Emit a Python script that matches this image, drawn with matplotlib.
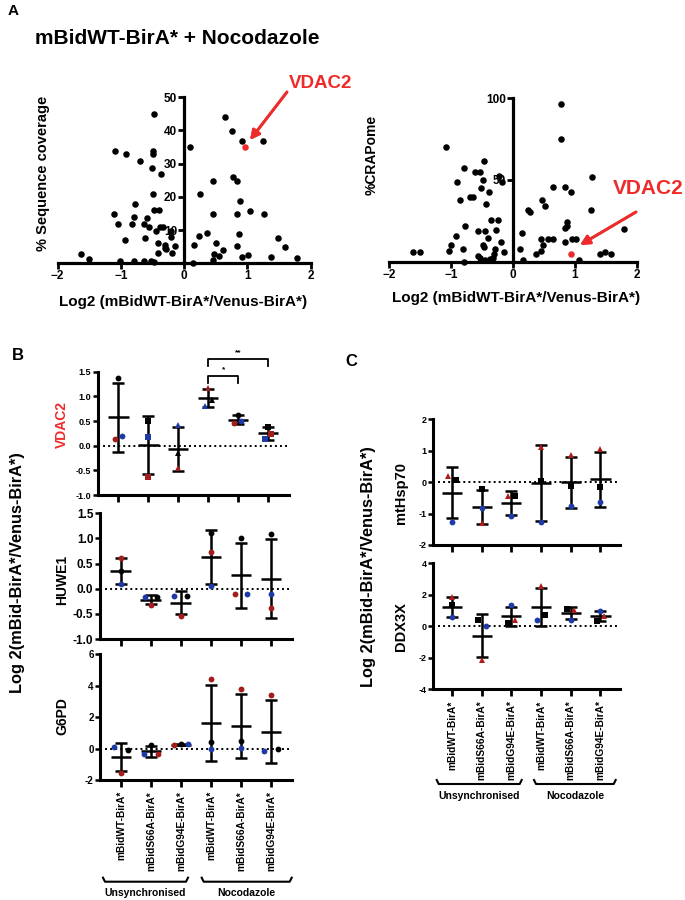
import numpy as np
import matplotlib.pyplot as plt
from matplotlib.lines import Line2D

plt.rcParams['font.family'] = ['Liberation Sans', 'DejaVu Sans']
plt.rcParams['font.weight'] = 'bold'

W, H = 685, 900
RED = '#ee2b2b'
DRED = '#a41d1d'
BLUE = '#1f3aa6'

# ---- panel A: % sequence coverage vs log2 ratio
cov_x = [-1.63, -1.51, -1.10, -0.92, -1.11, -1.04, -1.01, -0.93, -0.79, -0.78,
         -0.80, -0.83, -0.70, -0.64, -0.62, -0.58, -0.64, -0.55, -0.52, -0.51,
         -0.50, -0.49, -0.49, -0.48, -0.48, -0.47, -0.44, -0.40, -0.41, -0.42,
         -0.36, -0.38, -0.34, -0.31, -0.31, -0.29, -0.21, -0.21, -0.19, -0.15,
         0.10, 0.64, 0.76, 0.92, 1.25, 0.46, 0.77, 0.83, 0.25, 0.88,
         0.46, 0.83, 1.04, 1.27, 0.23, 0.37, 0.15, 0.50, 0.62, 0.47,
         0.56, 0.45, 0.14, 0.87, 0.84, 0.92, 1.01, 1.38, 1.49, 1.59, 1.79]
cov_y = [2.7, 1.2, 33.9, 32.9, 14.7, 11.8, 0.6, 7.0, 0.8, 17.8,
         13.8, 11.8, 30.8, 11.8, 7.6, 13.7, 0.8, 10.8, 0.8, 28.8,
         20.8, 33.8, 32.8, 44.9, 0.3, 16.0, 9.8, 16.0, 6.2, 3.0,
         26.8, 10.8, 11.0, 5.4, 4.5, 4.2, 8.0, 9.8, 3.0, 5.3,
         34.9, 44.0, 39.9, 36.9, 36.9, 24.8, 25.8, 24.8, 20.8, 18.8,
         14.7, 14.7, 15.7, 14.7, 8.3, 9.0, 5.5, 6.0, 4.0, 2.7,
         2.3, 1.0, 0.2, 8.7, 5.2, 2.0, 2.4, 1.8, 7.7, 4.8, 1.7]
cov_vdac2 = (0.96, 34.9)

# ---- panel A: % CRAPome vs log2 ratio
crap_x = [-1.62, -1.50, -1.09, -1.04, -1.01, -0.92, -0.91, -0.85, -0.79, -0.77,
          -0.81, -0.79, -0.70, -0.64, -0.61, -0.53, -0.49, -0.47, -0.51, -0.39,
          -0.44, -0.57, -0.45, -0.48, -0.47, -0.41, -0.56, -0.53, -0.45, -0.35,
          -0.24, -0.27, -0.29, -0.30, -0.33, -0.37, -0.19, -0.22, -0.17, -0.14,
          0.14, 0.11, 0.16, 0.24, 0.27, 0.37, 0.46, 0.48, 0.46, 0.47,
          0.51, 0.57, 0.64, 0.65, 0.77, 0.78, 0.84, 0.93, 0.84, 0.84,
          0.88, 0.88, 0.95, 1.02, 1.06, 1.26, 1.27, 1.40, 1.49, 1.59, 1.80]
crap_y = [5.7, 5.7, 70.0, 6.5, 10.4, 16.0, 49.0, 37.8, 57.5, 22.0,
          7.7, 0.0, 39.8, 39.8, 55.0, 55.0, 49.8, 61.6, 45.0, 42.5,
          35.4, 18.7, 18.7, 10.4, 9.3, 14.4, 3.7, 2.4, 1.0, 25.8,
          25.8, 19.1, 7.5, 4.7, 2.4, 1.4, 11.8, 52.2, 49.0, 5.7,
          17.7, 7.7, 0.8, 31.9, 30.7, 4.9, 6.5, 10.4, 14.0, 38.0,
          33.9, 14.0, 14.0, 46.0, 96.3, 75.0, 46.0, 42.9, 11.8, 20.7,
          21.7, 24.6, 13.8, 13.8, 0.8, 31.9, 51.8, 4.7, 5.7, 4.7, 19.9]
crap_vdac2 = (0.93, 4.9)

# ---- panels B / C: replicate log2 ratios per condition
conditions = ['mBidWT-BirA*', 'mBidS66A-BirA*', 'mBidG94E-BirA*',
              'mBidWT-BirA*', 'mBidS66A-BirA*', 'mBidG94E-BirA*']

vdac2_black = [1.38, 0.50, -0.14, 0.93, 0.62, 0.385]
vdac2_red = [0.14, -0.63, -0.46, 1.16, 0.45, 0.23]
vdac2_blue = [0.20, 0.18, 0.41, 0.81, 0.51, 0.13]

huwe1_black = [0.35, -0.17, -0.15, 1.11, 1.01, 1.09]
huwe1_red = [0.61, -0.32, -0.54, 0.74, -0.11, -0.38]
huwe1_blue = [0.09, -0.17, -0.15, 0.05, -0.11, -0.11]

g6pd_black = [-0.11, 0.24, 0.26, 0.45, 0.49, -0.02]
g6pd_red = [-1.55, -0.37, 0.24, 4.41, 3.76, 3.42]
g6pd_blue = [0.10, -0.37, 0.26, -0.02, 0.04, -0.15]

hsp70_black = [0.07, -0.23, -0.44, 0.04, -0.12, -0.14]
hsp70_red = [0.19, -1.30, -0.44, 1.13, 0.85, 1.05]
hsp70_blue = [-1.27, -0.82, -1.09, -1.28, -0.76, -0.64]

ddx3x_black = [1.33, 0.38, 0.21, 0.69, 1.12, 0.36]
ddx3x_red = [1.83, -2.17, 0.38, 2.59, 1.01, 0.67]
ddx3x_blue = [0.57, 0.00, 1.33, 0.42, 0.42, 0.97]

fig = plt.figure(figsize=(6.85, 9), dpi=100)


def box(x0, y0, x1, y1):
    return [x0 / W, 1 - y1 / H, (x1 - x0) / W, (y1 - y0) / H]


def fxy(x, y):
    return (x / W, 1 - y / H)


def label(x, y, s, **kw):
    fig.text(x / W, 1 - y / H, s, ha=kw.pop('ha', 'center'),
             va=kw.pop('va', 'center'), **kw)


def volcano(rect, x, y, hl, ymax, yticks):
    ax = fig.add_axes(rect)
    ax.scatter(x, y, s=22, c='k', linewidths=0, zorder=3, clip_on=False)
    ax.scatter([hl[0]], [hl[1]], s=22, c=RED, linewidths=0, zorder=3)
    ax.set_xlim(-2, 2)
    ax.set_ylim(0, ymax)
    ax.spines['left'].set_position(('data', 0))
    ax.spines[['top', 'right']].set_visible(False)
    for s in ax.spines.values():
        s.set_linewidth(2.3)
    ax.set_xticks([-2, -1, 0, 1, 2])
    ax.set_yticks(yticks)
    ax.tick_params(width=2, length=4, labelsize=8.5, pad=1)
    return ax


volcano(box(57.7, 97, 310.5, 263.3), cov_x, cov_y, cov_vdac2, 50,
        [10, 20, 30, 40, 50])
volcano(box(389.3, 98.3, 636.7, 261.7), crap_x, crap_y, crap_vdac2, 100,
        [50, 100])

label(8, 11, 'A', fontsize=11, ha='left')
label(35, 38, 'mBidWT-BirA* + Nocodazole', fontsize=15, ha='left')
label(43, 173, '% Sequence coverage', fontsize=10.5, rotation=90)
label(183, 302, 'Log2 (mBidWT-BirA*/Venus-BirA*)', fontsize=11)
label(372, 155, '%CRAPome', fontsize=10, rotation=90)
label(516, 298, 'Log2 (mBidWT-BirA*/Venus-BirA*)', fontsize=11)

label(289, 84, 'VDAC2', fontsize=13.5, color=RED, ha='left')
label(613, 188, 'VDAC2', fontsize=15, color=RED, ha='left')
arrow = dict(arrowstyle='-|>', color=RED, lw=2, mutation_scale=14,
             shrinkA=0, shrinkB=0)
fig.add_artist(plt.annotate('', xy=fxy(250, 140), xytext=fxy(287, 92),
                            xycoords='figure fraction', arrowprops=arrow))
fig.add_artist(plt.annotate('', xy=fxy(580, 245), xytext=fxy(636, 212),
                            xycoords='figure fraction', arrowprops=arrow))


def dotplot(rect, black, red, blue, offs, markers, ylim, yticks, tsize,
            xlim, redc=DRED, showx=False):
    ax = fig.add_axes(rect)
    pos = np.arange(1, 7)
    ax.axhline(0, color='k', lw=1.4, ls=(0, (1, 1.6)), zorder=1)
    for i, p in enumerate(pos):
        vals = np.array([black[i], red[i], blue[i]])
        m, sd = vals.mean(), vals.std(ddof=1)
        kw = dict(color='k', lw=1.8, zorder=2, solid_capstyle='butt')
        ax.plot([p, p], [m - sd, m + sd], **kw)
        ax.plot([p - 0.2, p + 0.2], [m + sd] * 2, **kw)
        ax.plot([p - 0.2, p + 0.2], [m - sd] * 2, **kw)
        ax.plot([p - 0.34, p + 0.34], [m, m], **kw)
        for vals_c, col, k in ((black, 'k', 0), (red, redc, 1), (blue, BLUE, 2)):
            mk = markers[k] if isinstance(markers, tuple) else markers[i]
            ax.plot(p + offs[k][i], vals_c[i], marker=mk, color=col, ms=4.2,
                    ls='none', zorder=3, clip_on=False, mew=0)
    ax.set_xlim(*xlim)
    ax.set_ylim(*ylim)
    ax.spines[['top', 'right']].set_visible(False)
    for s in ax.spines.values():
        s.set_linewidth(2.2)
    ax.set_xticks(pos)
    ax.set_yticks(yticks)
    ax.set_yticklabels([f'{t:.1f}' if isinstance(t, float) else str(t) for t in yticks])
    ax.tick_params(axis='y', width=1.8, length=3.5, labelsize=tsize, pad=1)
    ax.tick_params(axis='x', width=2, length=5, labelsize=7.3, pad=3)
    if showx:
        ax.set_xticklabels(conditions, rotation=90, va='top')
    else:
        ax.set_xticklabels([])
    return ax


# offsets of black / red / blue replicates within each condition
z6 = [0, 0, 0, 0, 0, 0]
vd_offs = ([0, 0, 0, 0.11, 0, 0], [-0.12, 0, 0, 0, -0.14, 0.11],
           [0.13, 0, 0, -0.12, 0.11, -0.11])
hu_offs = ([0, 0.2, 0.22, 0, 0, 0], [0, 0, 0, 0, -0.19, 0],
           [0, -0.19, -0.22, 0, 0.22, 0])
g6_offs = ([0.24, 0, 0, 0, 0, 0.22], [0, 0.24, -0.24, 0, 0, 0],
           [-0.22, -0.24, 0.24, 0, 0, -0.25])
hs_offs = ([0.12, 0, 0.12, 0, 0, 0], [-0.12, 0, -0.12, 0, 0, 0], z6)
dd_offs = ([0, -0.11, -0.11, 0.12, -0.12, -0.13],
           [0, 0, 0.13, 0, 0.12, 0.12], [0, 0.13, 0, -0.12, 0, 0])

xb = (0.3, 6.7)
ax_v = dotplot(box(97.5, 371.7, 289, 495), vdac2_black, vdac2_red, vdac2_blue,
               vd_offs, ['o', 's', '^', '^', 'o', 's'], (-1, 1.5),
               [-1.0, -0.5, 0.0, 0.5, 1.0, 1.5], 6.5, xb)
dotplot(box(99.5, 513.3, 292, 639), huwe1_black, huwe1_red, huwe1_blue,
        hu_offs, ('o', 'o', 'o'), (-1, 1.5),
        [-1.0, -0.5, 0.0, 0.5, 1.0, 1.5], 8.5, xb)
dotplot(box(100, 654.3, 292, 780), g6pd_black, g6pd_red, g6pd_blue,
        g6_offs, ('o', 'o', 'o'), (-2, 6), [-2, 0, 2, 4, 6], 7, xb,
        showx=True)

# significance brackets on VDAC2
for x0, x1, yb, yl, txt, yt in ((4, 5, 1.41, 1.28, '*', 1.47),
                                (4, 6, 1.75, 1.62, '**', 1.82)):
    ax_v.plot([x0, x0, x1, x1], [yl, yb, yb, yl], color='k', lw=1.3,
              clip_on=False)
    ax_v.text((x0 + x1) / 2, yt, txt, ha='center', va='bottom', fontsize=6,
              clip_on=False)

xc = (0.36, 6.66)
dotplot(box(433, 419.3, 620, 545), hsp70_black, hsp70_red, hsp70_blue,
        hs_offs, ('s', '^', 'o'), (-2, 2), [-2, -1, 0, 1, 2], 6.5, xc,
        redc='#b01c1c')
dotplot(box(433, 563.3, 620, 689.3), ddx3x_black, ddx3x_red, ddx3x_blue,
        dd_offs, ('s', '^', 'o'), (-4, 4), [-4, -2, 0, 2, 4], 6.5, xc,
        redc='#b01c1c', showx=True)

label(12, 356, 'B', fontsize=12, ha='left')
label(345, 362, 'C', fontsize=12, ha='left')
label(18, 573, 'Log 2(mBid-BirA*/Venus-BirA*)', fontsize=11.8, rotation=90)
label(368, 567, 'Log 2(mBid-BirA*/Venus-BirA*)', fontsize=11.8, rotation=90)
label(62, 425, 'VDAC2', fontsize=10, rotation=90, color=RED)
label(62, 580, 'HUWE1', fontsize=10, rotation=90)
label(62, 716, 'G6PD', fontsize=10, rotation=90)
label(401, 493, 'mtHsp70', fontsize=10.5, rotation=90)
label(401, 627, 'DDX3X', fontsize=10.5, rotation=90)


def brace(x0, x1, y, text, ty):
    xs = [x0, x0 + 2, x1 - 2, x1]
    ys = [y - 4, y, y, y - 4]
    fig.add_artist(Line2D([v / W for v in xs], [1 - v / H for v in ys],
                          color='k', lw=1.5))
    label((x0 + x1) / 2, ty, text, fontsize=7.5)


brace(103, 188, 881.7, 'Unsynchronised', 893)
brace(201.7, 291.7, 881.7, 'Nocodazole', 893)
brace(436.7, 521.7, 784, 'Unsynchronised', 796)
brace(534, 615.7, 784, 'Nocodazole', 796)

fig.savefig('out.png', dpi=100)
